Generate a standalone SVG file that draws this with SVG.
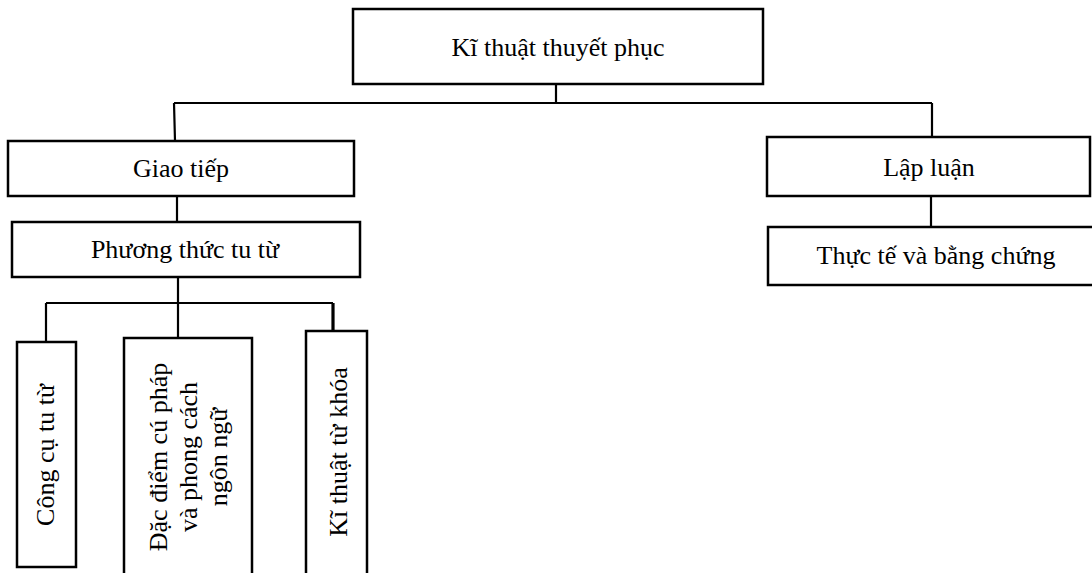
<svg xmlns="http://www.w3.org/2000/svg" width="1092" height="573" viewBox="0 0 1092 573">
<style>
.box{fill:#fff;stroke:#000;stroke-width:2.5}
.ln{fill:none;stroke:#000;stroke-width:2.2}
text{font-family:"Liberation Serif","Times New Roman",serif;font-size:26px;fill:#000;text-anchor:middle}
</style>
<rect width="1092" height="573" fill="#fff"/>
<g id="connectors">
<path class="ln" d="M556 79 V103 M174 103 H932 M174 103 L175 141 M932 103 V137"/>
<path class="ln" d="M177 196 V222"/>
<path class="ln" d="M931 196 V227"/>
<path class="ln" d="M178 277 V338 M46 303 H333 M46 303 V342"/>
<path class="ln" d="M333 303 V331" style="stroke-width:3.2"/>
</g>
<g id="n-root"><rect class="box" x="353" y="9" width="410" height="75"/><text x="558" y="56">Kĩ thuật thuyết phục</text></g>
<g id="n-giaotiep"><rect class="box" x="8" y="141" width="346" height="55"/><text x="181" y="177">Giao tiếp</text></g>
<g id="n-lapluan"><rect class="box" x="767" y="137" width="323" height="59"/><text x="929" y="176">Lập luận</text></g>
<g id="n-phuongthuc"><rect class="box" x="12" y="222" width="348" height="55"/><text x="185" y="258">Phương thức tu từ</text></g>
<g id="n-thucte"><rect class="box" x="768" y="227" width="340" height="58"/><text x="936" y="264">Thực tế và bằng chứng</text></g>
<g id="n-congcu"><rect class="box" x="17" y="342" width="59" height="225"/><text transform="translate(54 455) rotate(-90)">Công cụ tu từ</text></g>
<g id="n-dacdiem"><rect class="box" x="124" y="338" width="128" height="245"/><text transform="translate(0 457) rotate(-90)"><tspan x="0" y="167">Đặc điểm cú pháp</tspan><tspan x="0" y="197">và phong cách</tspan><tspan x="0" y="227">ngôn ngữ</tspan></text></g>
<g id="n-kithuat"><rect class="box" x="306" y="331" width="61" height="252"/><text transform="translate(347 452) rotate(-90)">Kĩ thuật từ khóa</text></g>
</svg>
